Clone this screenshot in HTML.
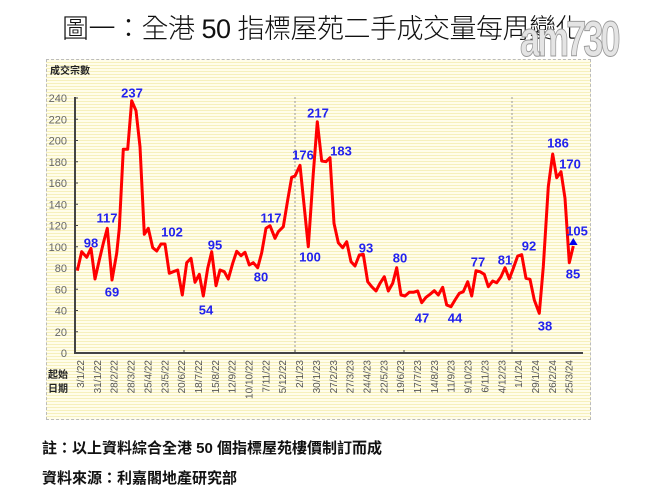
<!DOCTYPE html>
<html><head><meta charset="utf-8"><style>
body{margin:0;background:#fff;width:645px;height:499px;overflow:hidden;position:relative;font-family:"Liberation Sans","Noto Sans CJK TC",sans-serif}
.title{position:absolute;left:62px;top:7px;font-size:27px;font-weight:300;font-family:"Liberation Sans","Noto Sans CJK TC",sans-serif;color:#111;white-space:nowrap;letter-spacing:-0.5px}
.logo{position:absolute;left:520px;top:10px;font-size:50px;font-weight:bold;color:#e4e4e4;-webkit-text-stroke:1px #999;letter-spacing:-4px;transform:scaleX(0.72);transform-origin:left top;font-family:"Liberation Sans Narrow","Liberation Sans",sans-serif}
.panel{position:absolute;left:46px;top:59px;width:543px;height:359px;border:1px dashed #bbb;background:repeating-linear-gradient(#fffdea 0px,#fffdea 2px,#f6f0bc 2px,#f6f0bc 3px)}
.note{position:absolute;left:42px;font-size:15px;font-weight:bold;color:#111}
</style></head><body>
<div class="title">圖一：全港 50 指標屋苑二手成交量每周變化</div>
<div class="panel"></div>
<div class="logo">am730</div>
<svg width="645" height="499" style="position:absolute;left:0;top:0" font-family="Liberation Sans, Noto Sans CJK TC, sans-serif">
<text x="50" y="74" font-size="10" font-weight="bold" fill="#222">成交宗數</text>
<text x="48" y="378" font-size="10" font-weight="bold" fill="#222">起始</text>
<text x="48" y="392" font-size="10" font-weight="bold" fill="#222">日期</text>
<g stroke="#999" stroke-dasharray="2,2" stroke-width="1">
<line x1="295" y1="97" x2="295" y2="353"/><line x1="512" y1="97" x2="512" y2="353"/>
</g>
<g stroke="#444" stroke-width="2"><line x1="75" y1="97" x2="75" y2="353"/><line x1="74" y1="353" x2="583" y2="353"/></g>
<g stroke="#444" stroke-width="1" id="ticks"></g>
<g font-size="11" fill="#666" text-anchor="end" id="ylab"></g>
<g font-size="10" fill="#555" id="xlab"></g>
<polyline fill="none" stroke="#ff0000" stroke-width="3" stroke-linejoin="round" points="77.3,270.7 81.7,251.7 86.7,257.3 91,248.3 95,279 99.3,260 103.3,243.3 107.3,228.3 112,280 116.7,253.3 119.3,228.3 123.3,149.3 127.7,149.3 131.7,100.7 136,110.7 140,146.7 144.3,234.3 148.3,228.3 152.7,247.7 156.7,251 161,244 165,244 169.3,273.3 173.3,271.7 177.7,270 182.3,295 186.7,262.7 191,258.3 195,282.3 199.3,274.3 203.3,296 207.7,268.3 211.7,251.7 216,285.7 220,270 224.3,271.7 228.3,279 232.7,263.3 236.7,251.3 241,255.7 245,252.3 249.3,265 253.3,262.7 257.7,267.7 261.7,252.7 266,228.3 270,225.7 275,238.3 278.3,231.7 283.3,226.7 287.7,200 291.7,177.3 295,176 300,165.3 308.3,246.7 313.3,173.3 317.3,121.7 321.7,161 326,161.7 330,157.7 334,223.3 338.3,242.7 342.7,247.7 346.7,241.7 351,261.7 355,266 359.3,255 363.3,254.3 367.7,281.7 371.7,286.7 376,291 380,283.3 384.3,276.7 388.3,291 392.7,283.3 396.7,267.7 401,295 405,296 409.3,292.3 413.3,292.3 417.7,291 421.7,302.7 426,297.3 430,294.3 434.3,290.7 438.3,295 442.7,287.3 446.7,305 451,306.7 455,300 459.3,293.3 463.3,291.7 467.7,281.7 471.7,296 476,270.7 480,271.7 484.3,274.3 488.3,286.7 492.7,281 496.7,282.7 501,276.7 505,267.7 509.3,279 513.3,268.3 517.7,256 521.7,254.7 526,278.3 530,279.3 534.3,300 539.3,313.3 543.3,266.7 548.3,186.7 552.7,154 556.7,177.7 561,171.7 565,198.3 569.3,262.7 573.3,246"/>
<polygon points="573.3,238 569,245 577.6,245" fill="#0000ee"/>
<g font-size="13" font-weight="bold" fill="#2222ee" text-anchor="middle" dominant-baseline="central">
<text x="91" y="243">98</text><text x="107" y="218">117</text><text x="112" y="292">69</text><text x="132" y="93">237</text><text x="172" y="232">102</text><text x="206" y="310">54</text><text x="215" y="245">95</text><text x="261" y="277">80</text><text x="271" y="218">117</text><text x="303" y="155">176</text><text x="310" y="257">100</text><text x="318" y="113">217</text><text x="341" y="151">183</text><text x="366" y="248">93</text><text x="400" y="258">80</text><text x="422" y="318">47</text><text x="455" y="318">44</text><text x="478" y="262">77</text><text x="505" y="260">81</text><text x="529" y="246">92</text><text x="545" y="326">38</text><text x="558" y="143">186</text><text x="570" y="164">170</text><text x="577" y="231">105</text><text x="573" y="274">85</text>
</g>
<script>
var t=document.getElementById('ticks'),yl=document.getElementById('ylab'),xl=document.getElementById('xlab'),ns='http://www.w3.org/2000/svg';
for(var v=0;v<=240;v+=20){var y=353-v*1.0625;var l=document.createElementNS(ns,'line');l.setAttribute('x1',75);l.setAttribute('x2',78);l.setAttribute('y1',y);l.setAttribute('y2',y);t.appendChild(l);
var s=document.createElementNS(ns,'text');s.setAttribute('x',67);s.setAttribute('y',y+4);s.textContent=v;yl.appendChild(s);}
[184,295,404,512].forEach(function(x){var l=document.createElementNS(ns,'line');l.setAttribute('x1',x);l.setAttribute('x2',x);l.setAttribute('y1',350);l.setAttribute('y2',353);t.appendChild(l);});
var d=['3/1/22','31/1/22','28/2/22','28/3/22','25/4/22','23/5/22','20/6/22','18/7/22','15/8/22','12/9/22','10/10/22','7/11/22','5/12/22','2/1/23','30/1/23','27/2/23','27/3/23','24/4/23','22/5/23','19/6/23','17/7/23','14/8/23','11/9/23','9/10/23','6/11/23','4/12/23','1/1/24','29/1/24','26/2/24','25/3/24'];
d.forEach(function(s,i){var x=80+i*16.85;var e=document.createElementNS(ns,'text');e.setAttribute('transform','translate('+(x+4)+',360) rotate(-90)');e.setAttribute('text-anchor','end');e.textContent=s;xl.appendChild(e);});
</script>
</svg>
<div class="note" style="top:437px">註：以上資料綜合全港 50 個指標屋苑樓價制訂而成</div>
<div class="note" style="top:467px">資料來源：利嘉閣地產研究部</div>
</body></html>
